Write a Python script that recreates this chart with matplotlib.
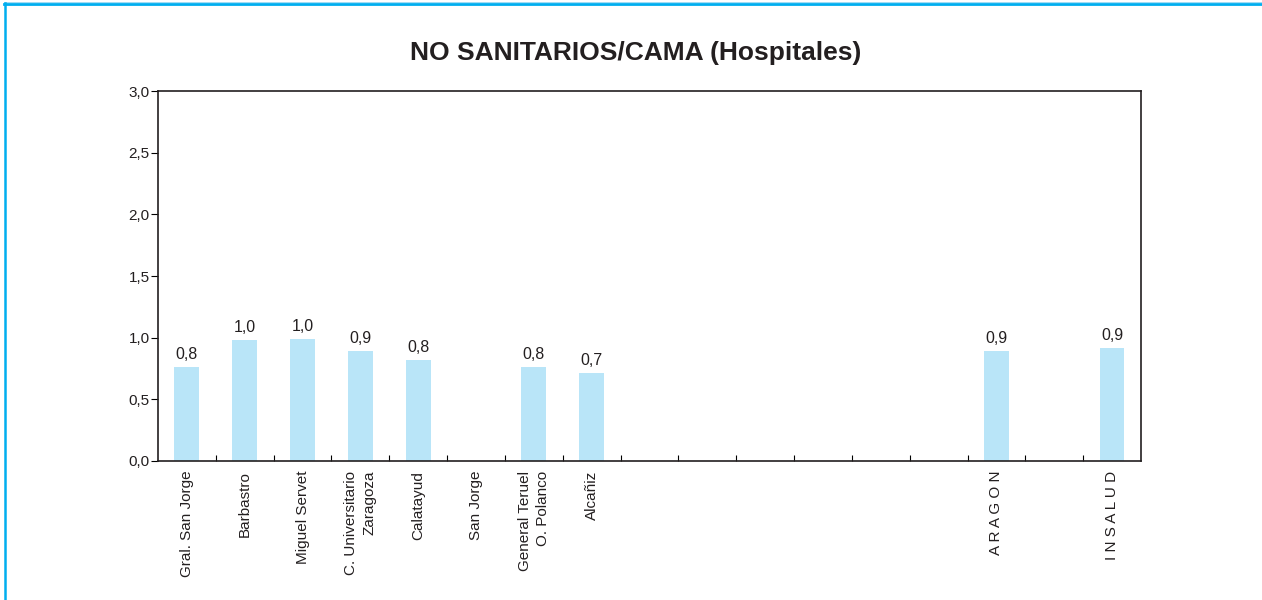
import numpy as np
import matplotlib.pyplot as plt
from matplotlib.lines import Line2D

plt.rcParams['font.family'] = ['Liberation Sans', 'DejaVu Sans']

# 17 huecos en el eje; los vacios llevan etiqueta '' y valor None
etiquetas = ['Gral. San Jorge', 'Barbastro', 'Miguel Servet',
             'C. Universitario\nZaragoza', 'Calatayud', 'San Jorge',
             'General Teruel\nO. Polanco', 'Alcañiz',
             '', '', '', '', '', '',
             'A R A G O N', '', 'I N S A L U D']
valores = [0.76, 0.98, 0.99, 0.89, 0.82, None, 0.76, 0.71,
           None, None, None, None, None, None,
           0.89, None, 0.915]

color_barra = '#b9e5f8'
azul = '#00aeef'
negro = '#231f20'

fig = plt.figure(figsize=(12.62, 6.0), dpi=100)
ax = fig.add_axes([0.1252, 0.2317, 0.7789, 0.6166])

x = np.arange(len(etiquetas))
for i, v in enumerate(valores):
    if v is None:
        continue
    ax.bar(x[i], v, width=0.43, color=color_barra, edgecolor='none')
    ax.text(x[i], v + 0.04, ('%.1f' % v).replace('.', ','),
            ha='center', va='bottom', fontsize=11.5, color=negro)

ax.set_xlim(-0.5, len(etiquetas) - 0.5)
ax.set_ylim(0, 3.0)
ax.set_yticks(np.arange(0, 3.01, 0.5))
ax.set_yticklabels([('%.1f' % t).replace('.', ',') for t in np.arange(0, 3.01, 0.5)],
                   fontsize=11, color=negro)
ax.tick_params(axis='y', direction='out', length=5, width=0.8, pad=1)

ax.set_xticks(x)
ax.set_xticklabels(etiquetas, rotation=90, fontsize=11, ha='center', va='top',
                   multialignment='right', linespacing=1.35, color=negro)
ax.tick_params(axis='x', which='major', length=0, pad=7)
ax.set_xticks(np.arange(0.5, len(etiquetas) - 1, 1.0), minor=True)
ax.tick_params(axis='x', which='minor', direction='in', length=4, width=0.8)

for s in ax.spines.values():
    s.set_linewidth(1.2)
    s.set_color(negro)

fig.text(0.5035, 0.912, 'NO SANITARIOS/CAMA (Hospitales)', ha='center', va='center',
         fontsize=19, fontweight='bold', color=negro)

# marco azul del documento
fig.add_artist(Line2D([0.003, 1.0], [1 - 4.2 / 600, 1 - 4.2 / 600],
                      transform=fig.transFigure, color=azul, linewidth=2.0))
fig.add_artist(Line2D([0.003, 1.0], [1 - 1.8 / 600, 1 - 1.8 / 600],
                      transform=fig.transFigure, color='#8fd6f4', linewidth=0.6))
fig.add_artist(Line2D([4.5 / 1262, 4.5 / 1262], [0, 1 - 3 / 600],
                      transform=fig.transFigure, color=azul, linewidth=1.8))

plt.savefig('out.png', dpi=100)
plt.close()
